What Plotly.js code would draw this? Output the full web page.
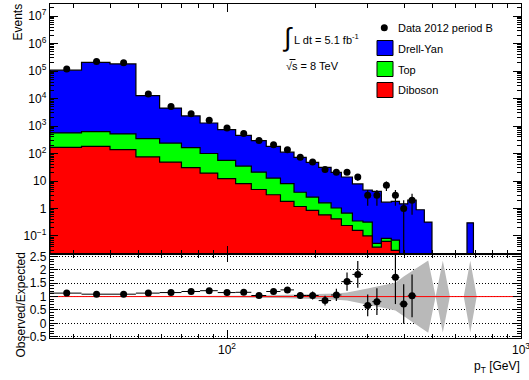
<!DOCTYPE html>
<html><head><meta charset="utf-8">
<script src="https://cdn.plot.ly/plotly-3.0.1.min.js"></script>
<style>html,body{margin:0;padding:0;background:#fff;}#chart{width:529px;height:380px;}</style>
</head><body><div id="chart"></div>
<script>
// ---- data ----
const binEdges = [25,32,40,49,59,70,81,93,107,121,136,152,169,186,205,226,245,267,290,312,335,362,386,412,440,469,498,527,557,589,622,655,689,725];
const mcTotal = [108000,208000,182000,12700,4500,2330,1290,745,460,295,
                 182,112,72,48,31.5,20.5,14,7.8,4.7,4.2,
                 1.7,1.8,1.48,2.0,0.9,0.32,
                 0,0.015,0,0,0,0.30,0];
const mcTopPlusDiboson = [560,630,515,350,240,164,100,56,35,21,
                 12.8,8,3.9,2.6,1.6,1.04,0.68,0.35,0.32,0.054,
                 0.082,0.07,0,0,0,0,0,0,0,0,0,0,0];
const mcDiboson = [168,182,138,75,49,30.6,19.4,12.1,8.0,4.9,
                 3.16,1.8,1.18,0.85,0.59,0.42,0.24,0.16,0.10,0.039,
                 0.064,0.03,0,0,0,0,0,0,0,0,0,0,0];
const dataEvents = [118000,225000,200000,14500,5100,2770,1630,850,535,296,
                 210,138,73,49,26,21,21,14,3,3,
                 7,3,1,2,0,0,0,0,0,0,0,0,0];
const ratioValues = [1.13,1.09,1.09,1.13,1.15,1.19,1.22,1.15,1.16,1.04,
                 1.19,1.25,1.04,1.04,0.85,1.06,1.56,1.83,0.67,0.81,
                 null,1.72,0.72,1.03,null,null,null,null,null,null,null,null,null];
const ratioErrors = [0.004,0.003,0.003,0.01,0.017,0.025,0.03,0.04,0.05,0.06,
                 0.08,0.1,0.12,0.15,0.18,0.23,0.34,0.5,0.41,0.5,
                 null,1.0,0.74,0.8,null,null,null,null,null,null,null,null,null];
const bandErrors = [0.01,0.01,0.01,0.02,0.02,0.02,0.025,0.03,0.035,0.04,
                 0.05,0.06,0.07,0.08,0.1,0.12,0.15,0.22,0.3,0.38,
                 0.45,0.52,0.75,0.95,1.15,1.35,0,1.34,0,0,0,1.34,0];
const seriesNames = ["Data 2012 period B","Drell-Yan","Top","Diboson"];
const xTickVals = [100,1000];
const xTickText = ["10<sup>2</sup>","10<sup>3</sup>"];
const yTickVals = [0.1,1,10,100,1e3,1e4,1e5,1e6,1e7];
const yTickText = ["10<sup>\u22121</sup>","1","10","10<sup>2</sup>","10<sup>3</sup>","10<sup>4</sup>","10<sup>5</sup>","10<sup>6</sup>","10<sup>7</sup>"];
const rTickVals = [-0.5,0,0.5,1,1.5,2,2.5];
const rTickText = ["\u22120.5","0","0.5","1","1.5","2","2.5"];
const refLevel = 1;

// ---- helpers ----
const FLOOR = 1e-3;
const centers = binEdges.slice(0,-1).map((e,i)=>(e+binEdges[i+1])/2);
const halfW = binEdges.slice(0,-1).map((e,i)=>(binEdges[i+1]-e)/2);
function stepPoly(vals){
  const xs=[binEdges[0]], ys=[FLOOR];
  vals.forEach((v,i)=>{const y=v>0?v:FLOOR; xs.push(binEdges[i],binEdges[i+1]); ys.push(y,y);});
  xs.push(binEdges[binEdges.length-1]); ys.push(FLOOR);
  return {xs,ys};
}
function histTrace(vals,color,name){
  const p=stepPoly(vals);
  return {x:p.xs,y:p.ys,type:'scatter',mode:'lines',fill:'toself',fillcolor:color,
    line:{color:'black',width:1.2},xaxis:'x',yaxis:'y',name:name,showlegend:false,hoverinfo:'skip'};
}
const FONT = "Liberation Sans, Arial, Helvetica, sans-serif";
const L=50, R=8, T=4, B=42, W=529, H=380;
const PW=W-L-R, PH=H-T-B;
const px=x=>(x-L)/PW, py=y=>(H-B-y)/PH;

// data (top)
const dX=[],dY=[],dEp=[],dEm=[];
dataEvents.forEach((n,i)=>{ if(n>0){dX.push(centers[i]);dY.push(n);const e=Math.sqrt(n);dEp.push(e);dEm.push(Math.min(e,n*0.999));}});
// ratio
const rX=[],rY=[],rE=[],rXE=[];
ratioValues.forEach((r,i)=>{ if(r!==null){rX.push(centers[i]);rY.push(r);rE.push(ratioErrors[i]);rXE.push(halfW[i]);}});
// band polygon
const bandX=centers.concat(centers.slice().reverse());
const bandY=centers.map((c,i)=>refLevel+bandErrors[i]).concat(centers.map((c,i)=>refLevel-bandErrors[i]).reverse());

const traces=[
  histTrace(mcTotal,'#0000ff',seriesNames[1]),
  histTrace(mcTopPlusDiboson,'#00ff00',seriesNames[2]),
  histTrace(mcDiboson,'#ff0000',seriesNames[3]),
  {x:dX,y:dY,type:'scatter',mode:'markers',marker:{color:'black',size:7},
   error_y:{type:'data',symmetric:false,array:dEp,arrayminus:dEm,color:'black',thickness:1.2,width:0},
   xaxis:'x',yaxis:'y',showlegend:false,name:seriesNames[0]},
  {x:bandX,y:bandY,type:'scatter',mode:'lines',fill:'toself',fillcolor:'rgb(185,185,185)',line:{width:0,color:'rgba(0,0,0,0)'},
   xaxis:'x2',yaxis:'y2',showlegend:false,hoverinfo:'skip'},
  {x:[binEdges[0],1000],y:[refLevel,refLevel],type:'scatter',mode:'lines',line:{color:'#ff0000',width:1},
   xaxis:'x2',yaxis:'y2',showlegend:false,hoverinfo:'skip'},
  {x:rX,y:rY,type:'scatter',mode:'markers',marker:{color:'black',size:7},
   error_y:{type:'data',array:rE,color:'black',thickness:1.2,width:0},
   error_x:{type:'data',array:rXE,color:'black',thickness:1,width:0},
   xaxis:'x2',yaxis:'y2',showlegend:false}
];

const xMinor=[];[10,100].forEach(d=>{for(let k=2;k<=9;k++){const v=k*d;if(v>=25&&v<=1000)xMinor.push(v);}});
const yMinor=[];for(let e=-2;e<=7;e++){for(let k=2;k<=9;k++)yMinor.push(k*Math.pow(10,e));}

const xrange=[Math.log10(25),3];
const common={showline:true,linecolor:'black',linewidth:1.2,mirror:'allticks',ticks:'inside',tickcolor:'black',
  zeroline:false,showgrid:false,tickfont:{family:FONT,size:12,color:'black'}};
const split=0.252;
function ann(text,x,y,opts){
  return Object.assign({text:text,x:px(x),y:py(y),xref:'paper',yref:'paper',xanchor:'left',yanchor:'middle',
    showarrow:false,font:{family:FONT,size:11,color:'black'}},opts||{});
}
const layout={
  width:W,height:H,margin:{l:L,r:R,t:T,b:B},paper_bgcolor:'white',plot_bgcolor:'white',showlegend:false,
  font:{family:FONT,size:12,color:'black'},
  xaxis:Object.assign({},common,{type:'log',range:xrange,domain:[0,1],anchor:'y',tickmode:'array',tickvals:xTickVals,
     showticklabels:false,ticklen:8,minor:{tickmode:'array',tickvals:xMinor,ticks:'inside',ticklen:4,tickcolor:'black'}}),
  yaxis:Object.assign({},common,{type:'log',range:[-1.65,7.44],domain:[split,1],anchor:'x',tickmode:'array',tickvals:yTickVals,ticktext:yTickText,
     ticklen:8,minor:{tickmode:'array',tickvals:yMinor,ticks:'inside',ticklen:4,tickcolor:'black'}}),
  xaxis2:Object.assign({},common,{type:'log',range:xrange,domain:[0,1],anchor:'y2',tickmode:'array',tickvals:xTickVals,ticktext:xTickText,
     ticklabeloverflow:'allow',ticklen:8,minor:{tickmode:'array',tickvals:xMinor,ticks:'inside',ticklen:4,tickcolor:'black'}}),
  yaxis2:Object.assign({},common,{range:[-0.55,2.6],domain:[0,split],anchor:'x2',tickmode:'array',tickvals:rTickVals,ticktext:rTickText,
     ticklen:8,showgrid:true,gridcolor:'black',gridwidth:1,griddash:'1px,2px',
     minor:{dtick:0.1,tick0:0,ticks:'inside',ticklen:4,tickcolor:'black'}}),
  shapes:[
    {type:'circle',xref:'paper',yref:'paper',x0:px(380.8),x1:px(387.8),y0:py(31.2),y1:py(24.2),fillcolor:'black',line:{width:0}},
    {type:'rect',xref:'paper',yref:'paper',x0:px(377),x1:px(393),y0:py(55.5),y1:py(40.5),fillcolor:'#0000ff',line:{color:'black',width:1}},
    {type:'rect',xref:'paper',yref:'paper',x0:px(377),x1:px(393),y0:py(76.5),y1:py(61.5),fillcolor:'#00ff00',line:{color:'black',width:1}},
    {type:'rect',xref:'paper',yref:'paper',x0:px(377),x1:px(393),y0:py(97.5),y1:py(82.5),fillcolor:'#ff0000',line:{color:'black',width:1}},
    {type:'line',xref:'paper',yref:'paper',x0:px(289.5),x1:px(295.5),y0:py(59.5),y1:py(59.5),line:{color:'black',width:1}}
  ],
  annotations:[
    ann(seriesNames[0],396,28),
    ann(seriesNames[1],396,49),
    ann(seriesNames[2],396,69.5),
    ann(seriesNames[3],396,90),
    ann('\u222B',287,37,{xanchor:'center',font:{family:FONT,size:26,color:'black'}}),
    ann('L dt = 5.1 fb<sup>-1</sup>',292,39),
    ann('\u221As = 8 TeV',284,66),
    ann('Events',18,22.5,{xanchor:'center',textangle:-90,font:{family:FONT,size:12,color:'black'}}),
    ann('Observed/Expected',20,305.5,{xanchor:'center',textangle:-90,font:{family:FONT,size:12,color:'black'}}),
    ann('p<sub>T</sub> [GeV]',522,367,{xanchor:'right',font:{family:FONT,size:12,color:'black'}})
  ]
};
Plotly.newPlot('chart',traces,layout,{displayModeBar:false,staticPlot:true});
</script></body></html>
